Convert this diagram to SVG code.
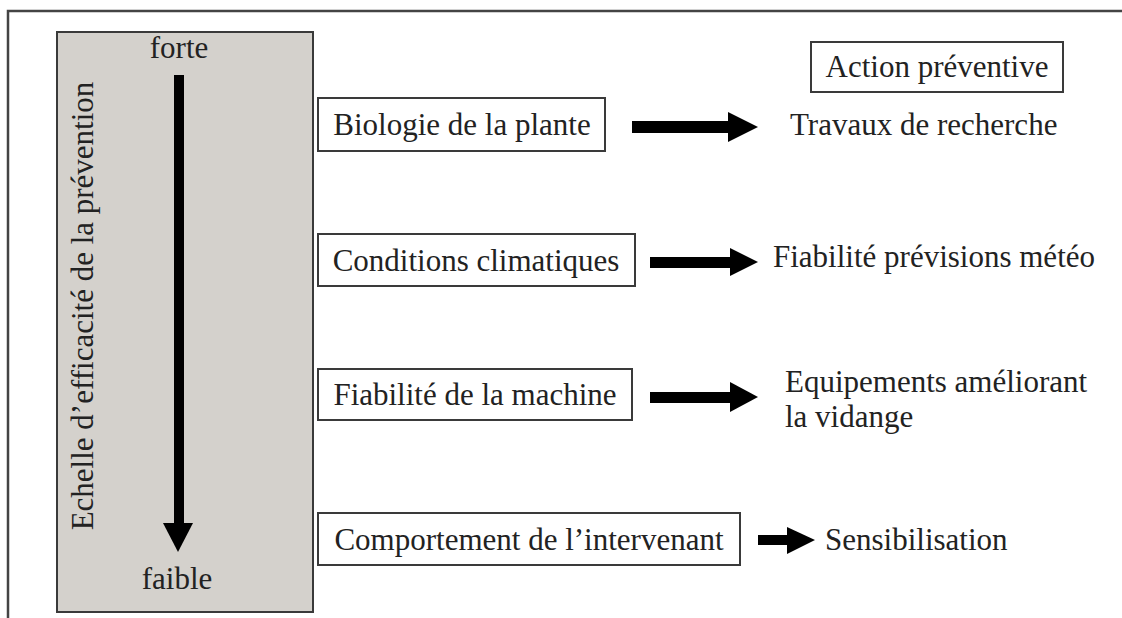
<svg xmlns="http://www.w3.org/2000/svg" width="1122" height="618" viewBox="0 0 1122 618">
<style>
text{font-family:"Liberation Serif","Times New Roman",serif;font-size:31px;fill:#222}
.box{fill:#fff;stroke:#3a3a3a;stroke-width:2}
.arr{fill:#000}
</style>
<rect x="0" y="0" width="1122" height="618" fill="#fff"/>
<path d="M8,618 V11 H1122" fill="none" stroke="#444" stroke-width="2.5"/>
<g id="scale">
<rect x="57" y="32" width="256" height="580" fill="#d4d1cc" stroke="#3a3a3a" stroke-width="2"/>
<text x="179" y="58" text-anchor="middle">forte</text>
<text x="177" y="589" text-anchor="middle">faible</text>
<text transform="translate(93,306) rotate(-90)" text-anchor="middle" fill="#2a2a2a">Echelle d’efficacité de la prévention</text>
</g>
<g id="action">
<rect class="box" x="811" y="42" width="252" height="50"/>
<text x="937" y="77" text-anchor="middle">Action préventive</text>
</g>
<g id="biologie">
<rect class="box" x="318" y="98" width="287" height="53"/>
<text x="462" y="135" text-anchor="middle">Biologie de la plante</text>
</g>
<g id="travaux"><text x="790" y="135">Travaux de recherche</text></g>
<g id="conditions">
<rect class="box" x="318" y="234" width="317" height="52"/>
<text x="476" y="271" text-anchor="middle">Conditions climatiques</text>
</g>
<g id="meteo"><text x="773" y="267">Fiabilité prévisions météo</text></g>
<g id="machine">
<rect class="box" x="318" y="369" width="314" height="51"/>
<text x="475" y="405" text-anchor="middle">Fiabilité de la machine</text>
</g>
<g id="equipements">
<text x="785" y="392">Equipements améliorant</text>
<text x="785" y="427">la vidange</text>
</g>
<g id="comportement">
<rect class="box" x="318" y="513" width="422" height="52"/>
<text x="529" y="550" text-anchor="middle">Comportement de l’intervenant</text>
</g>
<g id="sensibilisation"><text x="825" y="550">Sensibilisation</text></g>
<g id="connectors">
<rect class="arr" x="174" y="75" width="10" height="449"/>
<polygon class="arr" points="163,523 193,523 178,552"/>
<rect class="arr" x="632" y="121" width="97" height="12"/>
<polygon class="arr" points="728,112 758,127 728,142"/>
<rect class="arr" x="650" y="257" width="81" height="11"/>
<polygon class="arr" points="730,248 758,262 730,276"/>
<rect class="arr" x="650" y="392" width="81" height="11"/>
<polygon class="arr" points="730,382 758,397 730,412"/>
<rect class="arr" x="758" y="535" width="30" height="10"/>
<polygon class="arr" points="787,527 815,540 787,554"/>
</g>
</svg>
